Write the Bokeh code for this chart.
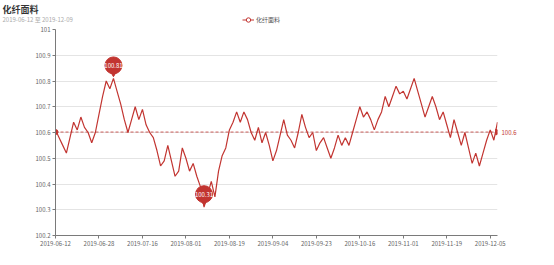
import numpy as np
import pandas as pd
from bokeh.plotting import figure
from bokeh.layouts import column
from bokeh.models import (Range1d, FixedTicker, NumeralTickFormatter,
                          Legend, LegendItem, ColumnDataSource, LinearAxis)
from bokeh.core.properties import value
from bokeh.embed import file_html
from bokeh.resources import INLINE

# ---------------- data ----------------
title_text = "化纤面料"
subtitle_text = "2019-06-12 至 2019-12-09"
series_name = "化纤面料"

holidays = ["2019-09-13", "2019-10-01", "2019-10-02", "2019-10-03",
            "2019-10-04", "2019-10-07"]
dates = [d.strftime("%Y-%m-%d") for d in
         pd.bdate_range("2019-06-12", "2019-12-09", freq="C", holidays=holidays)]

values = [
    100.61, 100.58, 100.55, 100.52, 100.58, 100.64, 100.61, 100.66, 100.62, 100.60,
    100.56, 100.60, 100.67, 100.74, 100.80, 100.77, 100.81, 100.76, 100.71, 100.65,
    100.60, 100.65, 100.70, 100.65, 100.69, 100.63, 100.60, 100.58, 100.53, 100.47,
    100.49, 100.55, 100.49, 100.43, 100.45, 100.54, 100.50, 100.45, 100.48, 100.43,
    100.39, 100.31, 100.36, 100.41, 100.35, 100.45, 100.51, 100.54, 100.61, 100.64,
    100.68, 100.64, 100.68, 100.65, 100.60, 100.57, 100.62, 100.56, 100.60, 100.55,
    100.49, 100.53, 100.59, 100.65, 100.59, 100.57, 100.54, 100.60, 100.67, 100.62,
    100.58, 100.60, 100.53, 100.56, 100.58, 100.54, 100.50, 100.54, 100.59, 100.55,
    100.58, 100.55, 100.60, 100.65, 100.70, 100.66, 100.68, 100.65, 100.61, 100.65,
    100.68, 100.74, 100.70, 100.74, 100.78, 100.75, 100.76, 100.73, 100.77, 100.81,
    100.76, 100.71, 100.66, 100.70, 100.74, 100.70, 100.65, 100.68, 100.63, 100.58,
    100.65, 100.60, 100.55, 100.60, 100.54, 100.48, 100.52, 100.47, 100.52, 100.57,
    100.61, 100.57, 100.64,
]

y_ticks = [100.2, 100.3, 100.4, 100.5, 100.6, 100.7, 100.8, 100.9, 101.0]
label_every = 12

# ---------------- style ----------------
RED = "#c23531"
FONT = "Noto Sans CJK SC"
Y_MIN, Y_MAX = 100.2, 101.0
W, H = 554, 265
HEAD = 26                     # header strip (title, subtitle, legend)
LEFT, RIGHT, TOP, BOTTOM = 55, 57, 3, 30
MAIN_H = H - HEAD
frame_h = MAIN_H - TOP - BOTTOM
ppu = frame_h / (Y_MAX - Y_MIN)

n = len(values)
idx = list(range(n))
x_ticks = list(range(0, n, label_every))

# ---------------- header strip ----------------
head = figure(width=W, height=HEAD, output_backend="svg", toolbar_location=None,
              x_range=Range1d(0, W), y_range=Range1d(HEAD, 0),
              x_axis_type=None, y_axis_type=None, min_border=0)
head.frame_align = False
head.outline_line_color = None
head.grid.visible = False
head.background_fill_color = "white"
head.border_fill_color = "white"
head.text([2], [2.5], text=[title_text], text_baseline="top", text_align="left",
          text_font_size="9px", text_font_style="bold", text_color="#333333",
          text_font=value(FONT))
head.text([2], [14], text=[subtitle_text], text_baseline="top", text_align="left",
          text_font_size="6px", text_color="#aaaaaa", text_font=value(FONT))

# legend proxies: the series' first values, placed off the header's visible range
proxy = ColumnDataSource(dict(x=[-50, -40], y=values[:2]))
leg_line = head.line("x", "y", source=proxy, line_color=RED, line_width=1)
leg_mark = head.scatter("x", "y", source=proxy, marker="circle", fill_color="white",
                        line_color=RED, line_width=1)
legend = Legend(items=[LegendItem(label=series_name, renderers=[leg_line, leg_mark])],
                location=(242, 1), orientation="horizontal",
                glyph_width=12, glyph_height=11, label_height=11,
                label_text_font_size="6px", label_text_color="#555555",
                label_text_font=FONT, label_standoff=2,
                padding=0, margin=0, border_line_color=None,
                background_fill_alpha=0)
head.add_layout(legend, "center")

# ---------------- main chart ----------------
p = figure(width=W, height=MAIN_H, output_backend="svg", toolbar_location=None,
           x_range=Range1d(0, n - 1), y_range=Range1d(Y_MIN, Y_MAX),
           min_border_left=LEFT, min_border_right=RIGHT,
           min_border_top=TOP, min_border_bottom=BOTTOM)
p.frame_align = False
p.outline_line_color = None
p.background_fill_color = "white"
p.border_fill_color = "white"
p.xgrid.visible = False
p.ygrid.grid_line_color = "#e4e4e4"
p.ygrid.grid_line_width = 1

p.yaxis.ticker = FixedTicker(ticks=y_ticks)
p.yaxis.formatter = NumeralTickFormatter(format="0.[0]")
p.xaxis.ticker = FixedTicker(ticks=x_ticks)
p.xaxis.major_label_overrides = {i: dates[i] for i in x_ticks}

for ax in (p.xaxis[0], p.yaxis[0]):
    ax.axis_line_color = "#7a7a7a"
    ax.major_tick_line_color = "#7a7a7a"
    ax.major_tick_out = 3
    ax.major_tick_in = 0
    ax.minor_tick_out = 0
    ax.minor_tick_in = 0
    ax.major_label_text_font_size = "6px"
    ax.major_label_text_color = "#666666"
    ax.major_label_text_font = FONT
    ax.major_label_standoff = 2

# main series
src = ColumnDataSource(dict(x=idx, y=values))
p.line("x", "y", source=src, line_color=RED, line_width=1.2)

# average mark line
avg = float(np.mean(values))
p.line([0, n - 1], [avg, avg], line_color=RED, line_width=0.8, line_dash="3 2")
p.scatter([0], [avg], marker="circle", size=5, color=RED)
p.scatter([n - 1], [avg], marker="triangle", angle=-np.pi / 2, size=6, color=RED)

# label of the average line, as a right-side axis with a single tick
avg_axis = LinearAxis(ticker=FixedTicker(ticks=[avg]),
                      formatter=NumeralTickFormatter(format="0.[00]"))
avg_axis.axis_line_color = None
avg_axis.major_tick_line_color = None
avg_axis.minor_tick_line_color = None
avg_axis.major_tick_out = 0
avg_axis.major_tick_in = 0
avg_axis.minor_tick_out = 0
avg_axis.minor_tick_in = 0
avg_axis.major_label_text_color = RED
avg_axis.major_label_text_font_size = "6px"
avg_axis.major_label_text_font = FONT
avg_axis.major_label_standoff = 4
p.add_layout(avg_axis, "right")

# max / min pins
i_max = int(np.argmax(values))
i_min = int(np.argmin(values))
pin_x = [i_max, i_min]
pin_v = [values[i_max], values[i_min]]
pin_c = [v + 13 / ppu for v in pin_v]
pin_t = [v + 7.5 / ppu for v in pin_v]
p.scatter(pin_x, pin_t, marker="inverted_triangle", size=10, color=RED)
p.scatter(pin_x, pin_c, marker="circle", size=17, color=RED)
p.text(pin_x, pin_c, text=[f"{v:g}" for v in pin_v], text_align="center",
       text_baseline="middle", text_font_size="6px", text_color="white",
       text_font=value(FONT))

layout = column(head, p, spacing=0)
open("out.html", "w").write(file_html(layout, INLINE))
